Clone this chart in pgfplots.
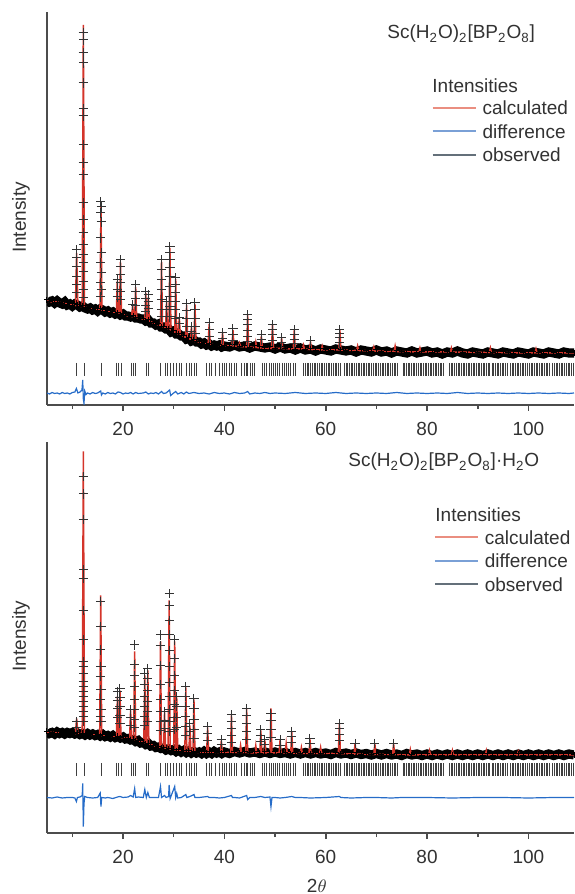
\documentclass[border=0pt]{standalone}
\usepackage{fontspec}
\setmainfont{Liberation Sans}
\usepackage{pgfplots}
\usepackage{pgfplotstable}
\pgfplotsset{compat=1.18}
\definecolor{calcred}{RGB}{212,52,42}
\definecolor{diffblue}{RGB}{38,108,200}
\definecolor{calcleg}{RGB}{234,142,128}
\definecolor{diffleg}{RGB}{122,160,214}
\definecolor{obsleg}{RGB}{100,112,122}
\definecolor{txt}{RGB}{50,50,50}

\pgfplotstableread{
x y
10.72 35.5
12.30 35.5
15.65 35.5
18.61 35.5
19.13 35.5
19.66 35.5
21.70 35.5
22.09 35.5
22.49 35.5
24.53 35.5
24.99 35.5
27.42 35.5
28.34 35.5
28.80 35.5
29.33 35.5
29.92 35.5
30.58 35.5
31.10 35.5
31.56 35.5
32.55 35.5
33.01 35.5
33.53 35.5
33.99 35.5
34.52 35.5
36.49 35.5
37.02 35.5
37.48 35.5
38.33 35.5
39.12 35.5
39.52 35.5
39.91 35.5
40.44 35.5
40.96 35.5
41.42 35.5
41.9 35.5
42.3 35.5
43.4 35.5
43.9 35.5
44.3 35.5
44.6 35.5
45.1 35.5
45.6 35.5
46.0 35.5
47.5 35.5
47.9 35.5
48.3 35.5
48.8 35.5
49.2 35.5
49.6 35.5
50.0 35.5
50.5 35.5
50.9 35.5
51.4 35.5
51.8 35.5
52.2 35.5
52.7 35.5
53.1 35.5
53.6 35.5
54.0 35.5
55.6 35.5
55.9 35.5
56.3 35.5
56.6 35.5
57.0 35.5
57.3 35.5
57.7 35.5
58.0 35.5
58.4 35.5
58.7 35.5
59.1 35.5
59.4 35.5
59.8 35.5
60.1 35.5
60.5 35.5
60.8 35.5
61.2 35.5
61.5 35.5
61.9 35.5
62.2 35.5
62.6 35.5
62.9 35.5
63.6 35.5
64.0 35.5
64.3 35.5
64.7 35.5
65.0 35.5
65.3 35.5
65.7 35.5
66.0 35.5
66.4 35.5
66.7 35.5
67.0 35.5
67.4 35.5
67.7 35.5
68.0 35.5
68.4 35.5
68.7 35.5
69.0 35.5
69.4 35.5
69.8 35.5
70.1 35.5
70.4 35.5
70.8 35.5
71.1 35.5
71.4 35.5
71.8 35.5
72.1 35.5
72.4 35.5
72.8 35.5
73.1 35.5
73.5 35.5
73.8 35.5
74.2 35.5
75.3 35.5
75.6 35.5
75.9 35.5
76.3 35.5
76.6 35.5
76.9 35.5
77.3 35.5
77.6 35.5
77.9 35.5
78.3 35.5
78.6 35.5
78.9 35.5
79.3 35.5
79.6 35.5
79.9 35.5
80.3 35.5
80.6 35.5
80.9 35.5
81.3 35.5
81.6 35.5
81.9 35.5
82.3 35.5
82.6 35.5
82.9 35.5
83.2 35.5
84.5 35.5
84.8 35.5
85.1 35.5
85.4 35.5
85.8 35.5
86.1 35.5
86.4 35.5
86.8 35.5
87.1 35.5
87.4 35.5
87.8 35.5
88.1 35.5
88.4 35.5
88.8 35.5
89.1 35.5
89.4 35.5
89.8 35.5
90.1 35.5
90.4 35.5
90.8 35.5
91.1 35.5
91.4 35.5
91.8 35.5
92.1 35.5
92.4 35.5
92.8 35.5
93.1 35.5
93.4 35.5
93.8 35.5
94.1 35.5
94.4 35.5
94.8 35.5
95.1 35.5
95.4 35.5
95.8 35.5
96.5 35.5
96.8 35.5
97.1 35.5
97.5 35.5
97.8 35.5
98.1 35.5
98.5 35.5
98.8 35.5
99.1 35.5
99.5 35.5
99.8 35.5
100.1 35.5
100.5 35.5
100.8 35.5
101.1 35.5
101.5 35.5
101.8 35.5
102.1 35.5
102.5 35.5
102.8 35.5
103.1 35.5
103.5 35.5
103.8 35.5
104.1 35.5
104.8 35.5
105.1 35.5
105.5 35.5
105.8 35.5
106.1 35.5
106.5 35.5
106.8 35.5
107.1 35.5
107.5 35.5
107.8 35.5
108.1 35.5
108.5 35.5
108.8 35.5
}\refltab

% ---------------- top panel ----------------
\pgfplotstableread{
x y
5 105
5.5 103
6 104
6.5 102
7 104
7.5 102
8 101
8.5 103
9 100
9.5 101
10 99
10.5 101
11 100
11.5 98
12 99
12.5 97
13 96
13.5 97
14 95
14.5 96
15 94
15.5 96
16 95
16.5 93
17 94
17.5 92
18 93
18.5 91
19 92
19.5 90
20 91
20.5 89
21 89
21.5 88
22 89
22.5 87
23 87
23.5 86
24 86
24.5 84
25 85
25.5 82
26 82
26.5 80
27 81
27.5 78
28 78
28.5 76
29 76
29.5 73
30 74
30.5 71
31 71
31.5 69
32 69
32.5 66
33 67
33.5 64
34 65
34.5 63
35 63
35.5 61
36 62
36.5 60
37 61
37.5 59
38 60
38.5 59
39 60
39.5 58
40 59
41 58
42 60
43 58
44 59
45 57
46 59
47 58
48 57
49 58
50 56
51 58
52 56
53 57
54 55
55 57
56 55
57 56
58 54
59 56
60 55
61 54
62 56
63 55
64 54
65 55
66 53
67 55
68 54
69 53
70 55
71 53
72 54
73 52
74 54
75 53
76 52
77 54
78 52
79 53
80 54
81 52
82 53
83 51
84 53
85 52
86 54
87 52
88 51
89 53
90 52
91 51
92 53
93 52
94 51
95 53
96 52
97 51
98 53
99 52
100 51
101 53
102 52
103 51
104 53
105 52
106 51
107 53
108 52
109 52
}\topband

\pgfplotstableread{
x y
10.81 155
10.89 147
10.81 138
10.89 128
10.81 120
10.89 112
12.13 372
12.21 365
12.13 352
12.21 342
12.13 322
12.21 296
12.13 289
12.21 260
12.13 242
12.21 230
12.13 202
12.21 185
12.13 172
12.21 160
12.13 150
12.21 142
12.13 133
12.21 123
12.13 115
12.21 107
15.61 203
15.69 198
15.61 192
15.69 183
15.61 167
15.69 152
15.61 142
15.69 132
15.61 122
15.69 115
15.61 108
18.87 125
18.87 115
18.87 108
19.5 145
19.5 138
19.5 130
19.5 122
19.5 113
19.5 105
21.9 100
22.5 120
22.5 113
22.5 106
22.5 99
24.5 113
24.5 106
24.5 99
24.5 93
25.0 110
25.0 103
25.0 96
27.6 145
27.6 135
27.6 125
27.6 115
27.6 105
27.6 95
27.6 88
28.6 103
28.6 95
28.6 88
29.26 158
29.26 152
29.26 145
29.26 137
29.26 128
29.26 118
29.26 108
29.26 98
29.26 88
30.4 127
30.4 120
30.4 112
30.4 103
30.4 95
30.4 86
31.1 87
31.1 81
32.55 101
32.55 94
32.55 86
32.55 78
33.5 78
33.5 73
34.2 102
34.2 95
34.2 86
34.2 78
34.2 71
37.0 82
37.0 75
37.0 68
39.65 72
39.65 66
41.7 76
41.7 70
41.7 64
44.6 90
44.6 85
44.6 80
44.6 74
44.6 68
44.6 63
47.3 70
47.3 65
49.5 80
49.5 75
49.5 70
49.5 64
51.3 67
51.3 62
53.8 75
53.8 70
53.8 65
53.8 61
57.0 64
62.8 75
62.8 71
62.8 67
62.8 62
}\toppk

\pgfplotstableread{
x y
5 104
6 103
7 103
8 102
9 101
10 100
10.6 99.5
10.85 152
11.1 99
11.95 98.5
12.17 380
12.4 98
13 97
14 96
15 95.5
15.45 95
15.65 199
15.85 95
17 94
18 93
18.7 92.5
18.87 124
19.05 92
19.3 92
19.5 143
19.7 91.5
20.5 89.5
21.7 88.5
21.9 100
22.1 88
22.3 88
22.5 118
22.7 87.5
23.5 86.5
24.3 85.5
24.5 112
24.7 85
24.8 85
25.0 108
25.2 84
26 82
27 80
27.4 79
27.6 143
27.8 78.5
28.4 77
28.6 103
28.8 76.5
29.06 76
29.26 157
29.46 75
30.2 72.5
30.4 126
30.6 72
30.9 71
31.1 88
31.3 70.5
32.35 67.5
32.55 100
32.75 67
33.3 65.5
33.5 78
33.7 65
34.0 64
34.2 101
34.4 64
35 63
36 62
36.8 61
37.0 81
37.2 61
38 60
39.45 59.5
39.65 72
39.85 59.5
41.5 59
41.7 75
41.9 59
42.8 58.5
43.0 62
43.2 58.5
44.4 58
44.6 90
44.8 58
46.0 57.5
46.2 63
46.4 57.5
47.1 57
47.3 69
47.5 57
49.3 56.5
49.5 80
49.7 56.5
51.1 56.5
51.3 67
51.5 56.5
53.6 56
53.8 75
54.0 56
55.4 56
55.6 60
55.8 56
56.8 55.5
57.0 63
57.2 55.5
59.1 55
59.3 59
59.5 55
62.6 55
62.8 75
63.0 55
66.1 54.5
66.3 59
66.5 54.5
69.3 54
69.5 58
69.7 54
73.5 53.5
73.7 59
73.9 53.5
78.4 53
78.6 57
78.8 53
84.6 53
84.8 57
85.0 53
92.3 52.5
92.5 57
92.7 52.5
101.3 52
101.5 56
101.7 52
109 52
}\topcalc

\pgfplotstableread{
x y
5 12
5.5 11
6 12.5
6.5 11.5
7 12
7.5 11
8 12.5
8.5 11.5
9 12
9.5 11
10 12.5
10.5 13
10.8 16.5
11.1 12
11.5 13
11.9 15
12.05 25
12.17 6
12.3 1.7
12.45 14
12.7 10.5
13 12
13.5 11
14 12.5
14.5 11.5
15 12
15.6 14
15.75 10
16 12
16.5 11
17 12.5
17.5 11.5
18 12
18.5 11
19 13
19.5 12.5
20 11
20.5 12
21 11.5
21.5 12.5
22 11
22.5 12.5
23 11.5
24 12
24.5 13
25 11
25.5 12
26 11.5
26.5 12.5
27 11
27.6 13.5
28 11.5
28.5 12
29.2 15
29.4 9.5
30 12
30.4 13.5
30.8 11
31.5 12.5
32 11
32.5 13
33 11.5
34 12.5
35 11.5
36 12
37 11
38 12.5
39 11.5
40 12
41 11
42 12.5
43 11.5
44 12
44.6 13.5
45 11
46 12
47 11.5
48 12.5
49 11.5
50 12
52 11.5
54 12.5
56 11.5
58 12
60 11.5
62 12.5
64 11.5
66 12
68 11.5
70 12
72 11.5
74 12.5
76 11.5
78 12
80 11.5
82 12
84 11.5
86 12.5
88 11.5
90 12
92 11.5
94 12
96 11.5
98 12
100 11.5
102 12
104 11.5
106 12
108 11.5
109 12
}\topdiff

% ---------------- bottom panel ----------------
\pgfplotstableread{
x y
5 74
5.5 72
6 73
6.5 71.5
7 73.5
7.5 72
8 73
8.5 71.5
9 73
9.5 72
10 73
10.5 71.5
11 72.5
11.5 71
12 72
12.5 70.5
13 72
13.5 70.5
14 71.5
14.5 70
15 71
15.5 69.5
16 71
16.5 69
17 70
17.5 68.5
18 70
18.5 68
19 69
19.5 67.5
20 68.5
20.5 66.5
21 67
21.5 65.5
22 66
22.5 64
23 65
23.5 62.5
24 63
24.5 61
25 62
25.5 59.5
26 60
26.5 58
27 58.5
27.5 57
28 57.5
28.5 55.5
29 56.5
29.5 55
30 56
30.5 54
31 55.5
31.5 53.5
32 55
32.5 53
33 54.5
33.5 52.5
34 54
34.5 52.5
35 53.5
35.5 52
36 54
36.5 52
37 53.5
37.5 52
38 54
38.5 52.5
39 53.5
39.5 52
40 53.5
41 52
42 54
43 52.5
44 54
45 52.5
46 53.5
47 52
48 53.5
49 52
50 53.5
51 52
52 53
53 51.5
54 53
55 51.5
56 53
57 51.5
58 53
59 51.5
60 52.5
61 51
62 53
63 51.5
64 52.5
65 51
66 52.5
67 51
68 52
69 50.5
70 52
71 50.5
72 52
73 50.5
74 51.5
75 50
76 52
77 50.5
78 51.5
79 50
80 51.5
81 50
82 51.5
83 50
84 51.5
85 50
86 51.5
87 50
88 51.5
89 50
90 51.5
91 50
92 51.5
93 50
94 51.5
95 50
96 51.5
97 50
98 51.5
99 50
100 51.5
101 50
102 51.5
103 50
104 51.5
105 50
106 51.5
107 50
108 51.5
109 50.5
}\botband

\pgfplotstableread{
x y
10.85 84
10.85 78
12.13 329
12.21 311.5
12.13 286
12.21 235.5
12.13 227
12.21 195
12.13 165.5
12.21 144
12.13 139
12.21 132
12.13 124
12.21 119
12.13 114
12.21 109
12.13 104
12.21 99
12.13 94
12.21 89
12.13 84
15.56 204
15.64 179
15.56 155.5
15.64 139
15.56 129
15.64 115.5
15.56 105.5
15.64 95.5
15.56 89
15.64 84
18.9 114
18.9 105
18.9 97
18.9 88
19.4 117
19.4 108
19.4 99
19.4 90
19.4 82
21.5 96
21.5 88
21.5 80
22.3 160.5
22.3 141
22.3 130
22.3 119
22.3 106
22.3 96
22.3 86
22.3 78
24.3 132
24.3 121
24.3 109
24.3 99
24.3 89
24.3 80
24.9 137
24.9 127
24.9 115
24.9 104
24.9 94
24.9 84
27.4 170.5
27.4 160
27.4 140
27.4 121
27.4 106
27.4 94
27.4 84
27.4 75
28.2 94
28.2 85
28.2 77
29.1 212
29.1 200
29.1 185
29.1 171
29.1 155
29.1 139
29.1 123
29.1 109
29.1 96
29.1 84
29.1 74
30.2 165.5
30.2 147
30.2 130
30.2 115
30.2 101
30.2 88
30.2 76
30.6 109
30.6 99
30.6 88
30.6 78
32.4 119
32.4 109
32.4 99
32.4 89
32.4 79
32.4 70
33.2 82
33.2 74
34.0 107
34.0 97
34.0 86
34.0 76
34.0 67
36.7 79
36.7 72
36.7 65
39.4 65.5
39.4 61
41.4 90.5
41.4 84
41.4 77
41.4 70
41.4 63
44.4 97
44.4 90
44.4 82
44.4 74
44.4 66
47.2 75.5
47.2 70
47.2 64
48.0 66
48.0 61
49.2 92
49.2 85
49.2 76
49.2 68
51.0 65.5
51.0 60
53.3 74
53.3 69
53.3 63
56.9 67
56.9 62
62.7 82
62.7 77
62.7 71
62.7 65
65.8 62
69.7 62
73.4 62
}\botpk

\pgfplotstableread{
x y
5 73
6 73
7 73
8 72.5
9 72.5
10 72.5
10.6 72
10.85 87
11.1 72
11.95 72
12.17 354
12.4 71.5
13 71.5
14 71
15 70.5
15.4 70.5
15.6 210
15.8 70
17 69.5
18 69
18.7 68.5
18.9 109
19.1 68.5
19.2 68.5
19.4 115
19.6 68
20.5 67.5
21.3 67
21.5 95
21.7 66.5
22.1 66
22.3 154
22.5 65.5
23.5 64
24.1 63
24.3 130
24.5 62.5
24.7 62
24.9 135
25.1 61.5
26 60
27 58
27.2 58
27.4 164
27.6 57.5
28.0 57
28.2 93
28.4 56.5
28.9 56
29.1 205
29.3 56
30.0 55.5
30.2 164
30.4 55.5
30.45 55.5
30.6 108
30.8 55
32.2 54.5
32.4 118
32.6 54.5
33.0 54
33.2 80
33.4 54
33.8 54
34.0 106
34.2 53.5
35 53
36.5 53
36.7 78
36.9 53
38 53
39.2 53
39.4 65
39.6 53
41.2 53
41.4 90
41.6 53
43.0 53
43.2 60
43.4 53
44.2 53
44.4 97
44.6 53
46.0 52.5
46.2 60
46.4 52.5
47.0 52.5
47.2 75
47.4 52.5
47.8 52.5
48.0 65
48.2 52.5
49.0 52.5
49.2 97
49.4 52.5
50.8 52.5
51.0 66
51.2 52.5
52.0 52.5
52.2 62
52.4 52.5
53.1 52.5
53.3 74
53.5 52.5
55.0 52
55.2 58
55.4 52
56.7 52
56.9 66
57.1 52
58.8 52
59.0 58
59.2 52
62.5 52
62.7 82
62.9 52
65.6 51.5
65.8 62
66.0 51.5
69.5 51
69.7 62
69.9 51
73.2 51
73.4 62
73.6 51
76.5 50.5
76.7 56
76.9 50.5
80.3 50.5
80.5 55
80.7 50.5
84.8 50.5
85.0 55
85.2 50.5
91.5 50.5
91.7 55
91.9 50.5
97.8 50.5
98.0 54
98.2 50.5
109 50.5
}\botcalc

\pgfplotstableread{
x y
5 8
6 7.5
7 8.5
8 7.5
9 8
10 8
10.5 7.5
10.8 4
11 8
11.5 8.5
11.95 10
12.05 22
12.17 -21
12.3 2
12.45 9
13 8
14 7.5
15 8
15.5 12.5
15.65 -1
15.8 8
16.5 7.5
17 8
18 7
18.9 8.5
19.4 9
20 8
21 8.5
21.5 10
22 8.5
22.3 17
22.5 8
23 8.5
24 8
24.3 16
24.6 8
24.9 13
25.2 8
26 8
27 8
27.4 19
27.6 8
28.2 10
28.5 8
29.0 9
29.1 20.5
29.3 7
30.2 19
30.4 8
30.6 12
30.8 7.5
31.5 8
32.4 11
32.6 8
33.2 9
34.0 11
34.2 8
35 8
36.7 9
37 8
38 8
39 7.5
40 8
41.4 10
41.6 8
42 8
43 7.5
44.4 10
44.6 6
45 8
46 8
47.2 9
48 8
49.0 8.5
49.2 -1.2
49.4 8
50 8
51 7.5
52 8
53.3 9
54 8
55 8
57 7.5
60 8
62.7 9
63 8
65 7.5
68 8
70 8
73 7.5
75 8
80 8
85 7.5
90 8
95 8
100 7.5
105 8
109 8
}\botdiff

\pgfplotsset{
  panel/.style={
    scale only axis,
    width=263.5pt,
    xmin=5, xmax=109,
    clip mode=global,
    axis x line*=bottom,
    axis y line*=left,
    ytick=\empty,
    xtick={20,40,60,80,100},
    minor xtick={10,30,50,70,90},
    tick align=outside,
    major tick length=3pt,
    minor tick length=2pt,
    axis line style={line width=0.8pt, black!70},
    every tick/.style={line width=0.8pt, black!70},
    every minor tick/.style={line width=0.8pt, black!70},
    /pgf/number format/assume math mode=true,
    font=\fontsize{9.5}{11.4}\selectfont\color{txt},
    xticklabel style={yshift=-2pt},
    ylabel={Intensity},
    legend cell align=left,
    legend image code/.code={\draw[#1] (0pt,0pt) -- (21.5pt,0pt);},
    legend style={draw=none, fill=none, inner sep=0pt, outer sep=0pt,
      anchor=north west, row sep=4.8pt, column sep=3pt,
      font=\fontsize{9.5}{11.4}\selectfont\color{txt},
      nodes={inner sep=0pt, text height=7pt, text depth=0pt}},
  },
  band/.style={black, line width=4.6pt, mark=+, mark size=1.5pt,
    mark options={line width=0.5pt, black}, forget plot},
  pk/.style={only marks, mark=+, mark size=2.3pt,
    mark options={line width=0.5pt, black!80}, forget plot},
  calcline/.style={calcred, line width=0.75pt, forget plot},
  diffline/.style={diffblue, line width=0.6pt, forget plot},
  refl/.style={only marks, mark=|, mark size=3.25pt,
    mark options={line width=0.4pt, black!75}, forget plot},
}

\begin{document}
\begin{tikzpicture}
\useasboundingbox (0,0) rectangle (287pt,447pt);

\begin{axis}[panel, at={(23.5pt,244.5pt)}, anchor=south west,
  height=196.5pt, ymin=0, ymax=393,
  ylabel style={at={(axis description cs:-0.0493,0.477)}, anchor=center},
  legend style={at={(axis description cs:0.730,0.7743)}}]
  \addplot[band] table {\topband};
  \addplot[pk] table {\toppk};
  \addplot[calcline] table {\topcalc};
  \addplot[refl] table {\refltab};
  \addplot[diffline] table {\topdiff};
  \addlegendimage{calcleg, line width=0.9pt}
  \addlegendentry{calculated}
  \addlegendimage{diffleg, line width=0.9pt}
  \addlegendentry{difference}
  \addlegendimage{obsleg, line width=0.9pt}
  \addlegendentry{observed}
\end{axis}

\begin{axis}[panel, at={(23.5pt,30.5pt)}, anchor=south west,
  height=195.5pt, ymin=-27.5, ymax=363.5,
  ylabel style={at={(axis description cs:-0.0493,0.504)}, anchor=center},
  xlabel={2$\theta$},
  xlabel style={at={(axis description cs:0.512,0)}, anchor=north, yshift=-23pt, inner sep=0pt},
  legend style={at={(axis description cs:0.7343,0.7749)}}]
  \addplot[band] table {\botband};
  \addplot[pk] table {\botpk};
  \addplot[calcline] table {\botcalc};
  \addplot[refl] table {\refltab};
  \addplot[diffline] table {\botdiff};
  \addlegendimage{calcleg, line width=0.9pt}
  \addlegendentry{calculated}
  \addlegendimage{diffleg, line width=0.9pt}
  \addlegendentry{difference}
  \addlegendimage{obsleg, line width=0.9pt}
  \addlegendentry{observed}
\end{axis}

\begin{scope}[every node/.style={font=\fontsize{9.5}{11.4}\selectfont, text=txt, inner sep=0pt}]
  \node[anchor=base west] at (193.5pt,427.5pt) {Sc(H\textsubscript{2}O)\textsubscript{2}[BP\textsubscript{2}O\textsubscript{8}]};
  \node[anchor=base west] at (216pt,400.7pt) {Intensities};
  \node[anchor=base west] at (174pt,213.5pt) {Sc(H\textsubscript{2}O)\textsubscript{2}[BP\textsubscript{2}O\textsubscript{8}]·H\textsubscript{2}O};
  \node[anchor=base west] at (217.5pt,186pt) {Intensities};
\end{scope}
\end{tikzpicture}
\end{document}
